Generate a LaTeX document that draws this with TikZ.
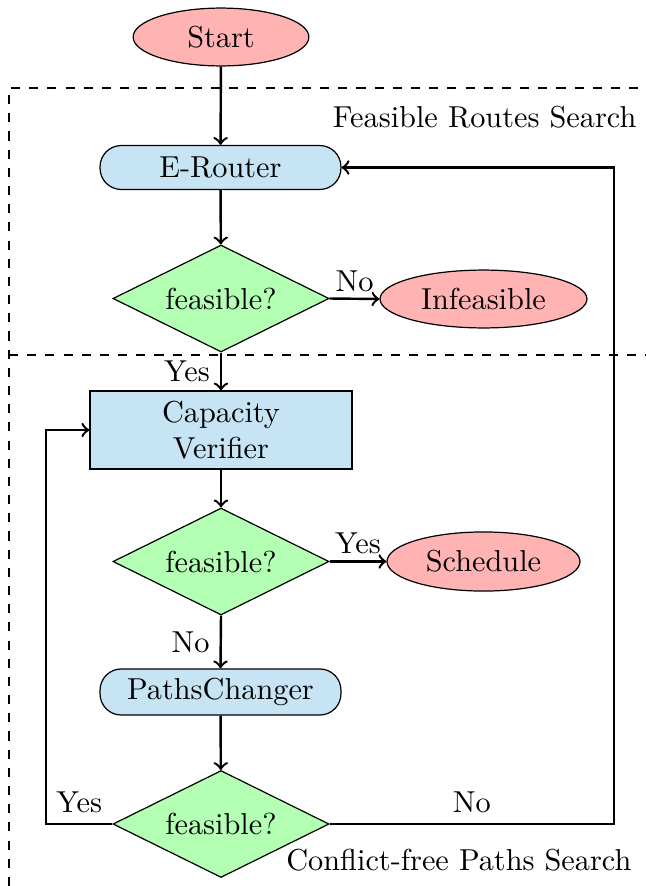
\documentclass[tikz,border=0pt]{standalone}
\usetikzlibrary{shapes.geometric}
\definecolor{termfill}{RGB}{255,179,179}
\definecolor{procfill}{RGB}{198,228,244}
\definecolor{decfill}{RGB}{179,255,179}
\begin{document}
\begin{tikzpicture}[x=0.33pt,y=-0.33pt,
  term/.style={ellipse,draw,fill=termfill,inner sep=0pt},
  proc/.style={rectangle,rounded corners=7pt,draw,fill=procfill,minimum width=79.5pt,minimum height=14.5pt,inner sep=0pt},
  procbox/.style={rectangle,draw,fill=procfill,minimum width=86.5pt,minimum height=25.7pt,inner sep=0pt,align=center},
  dec/.style={diamond,aspect=2,draw,fill=decfill,minimum width=71.3pt,minimum height=35.3pt,inner sep=0pt},
  arr/.style={->,thick},
  conn/.style={thick},
  region/.style={dashed,thin}]
\useasboundingbox (0,0) rectangle (646,886);
% regions
\draw[region] (9,886) -- (9,88) -- (646,88);
\draw[region] (9,355) -- (646,355);
\node[anchor=east,inner sep=0pt] (lab1) at (637,117) {Feasible Routes Search};
\node[anchor=east,inner sep=0pt] (lab2) at (632,860) {Conflict-free Paths Search};
% nodes
\node[term,minimum width=58pt,minimum height=19.1pt] (start) at (221,37) {Start};
\node[proc] (erouter) at (220.5,167.5) {E-Router};
\node[dec] (d1) at (221,298.5) {feasible?};
\node[term,minimum width=68.3pt,minimum height=19.1pt] (infeas) at (483.5,299) {Infeasible};
\node[procbox] (capver) at (221,430) {Capacity\\Verifier};
\node[dec] (d2) at (221,561.5) {feasible?};
\node[term,minimum width=63.7pt,minimum height=19.5pt] (sched) at (483.5,561.5) {Schedule};
\node[proc,minimum height=15.2pt] (paths) at (220.5,692) {PathsChanger};
\node[dec] (d3) at (221,824) {feasible?};
\coordinate (l1) at (46,824);
\coordinate (r1) at (614,824);
% connectors
\draw[arr] (start) -- (erouter);
\draw[arr] (erouter) -- (d1);
\draw[arr] (d1.east) -- node[above,inner sep=2pt]{No} (infeas.west);
\draw[arr] (d1.south) -- node[left]{Yes} (capver.north);
\draw[arr] (capver) -- (d2);
\draw[arr] (d2.east) -- node[above,inner sep=2pt]{Yes} (sched.west);
\draw[arr] (d2.south) -- node[left]{No} (paths.north);
\draw[arr] (paths) -- (d3);
\draw[arr] (d3.west) -- node[above]{Yes} (l1) |- (capver.west);
\draw[arr] (d3.east) -- node[above]{No} (r1) |- (erouter.east);
\end{tikzpicture}
\end{document}
